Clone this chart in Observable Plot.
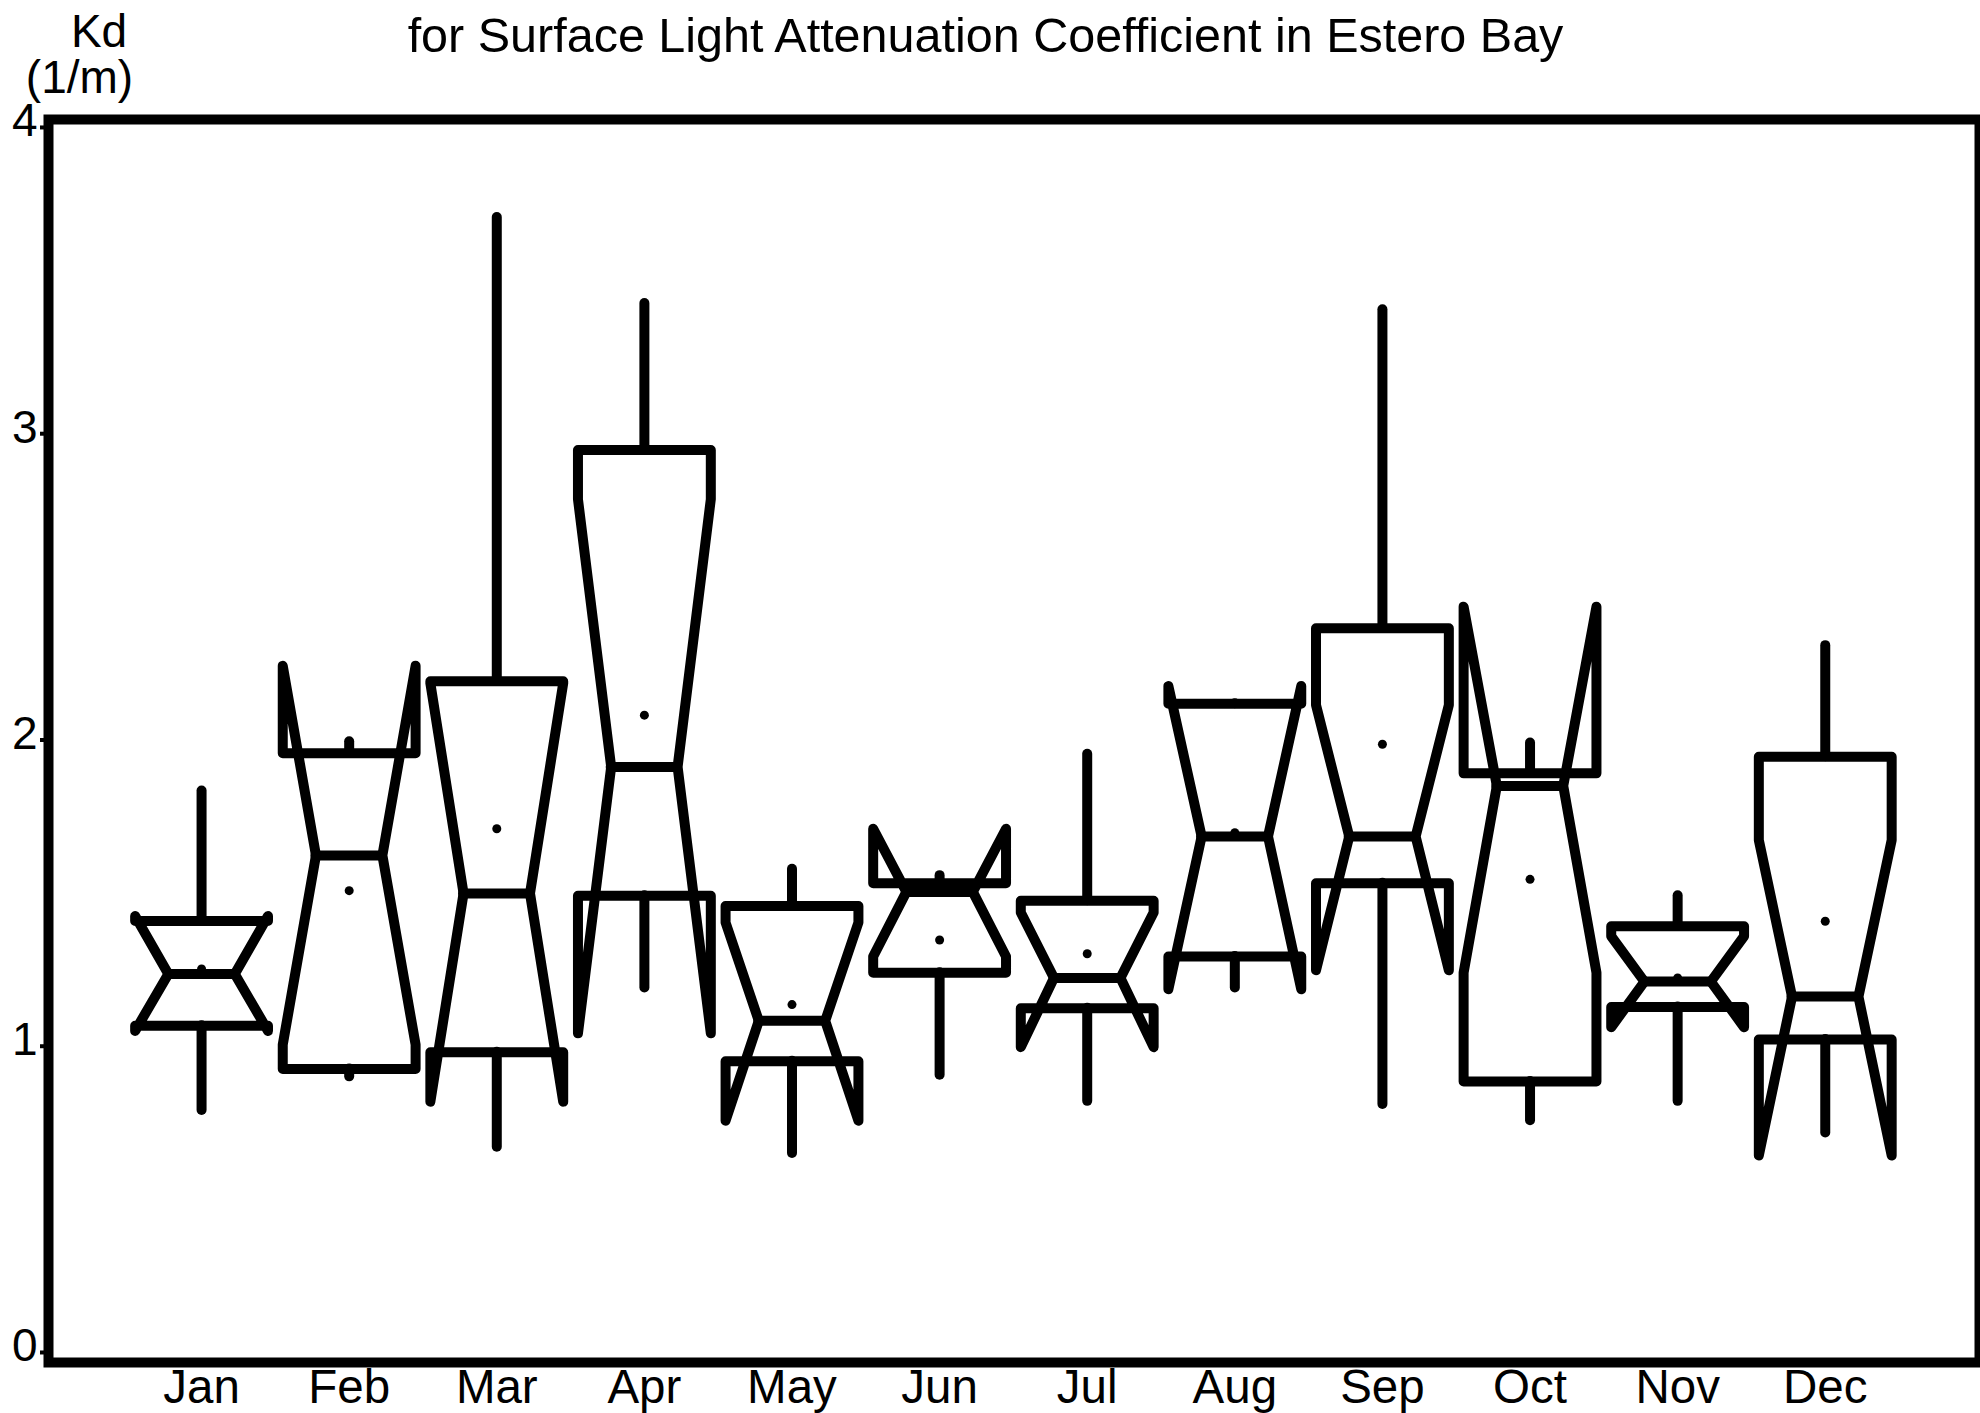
<!DOCTYPE html>
<html>
<head>
<meta charset="utf-8">
<script src="https://cdn.jsdelivr.net/npm/d3@7"></script>
<script src="https://cdn.jsdelivr.net/npm/@observablehq/plot@0.6"></script>
<style>
  html, body { margin: 0; padding: 0; background: #fff; }
</style>
</head>
<body>
<div id="chart"></div>
<script>
// ---- data ----
const months     = ["Jan","Feb","Mar","Apr","May","Jun","Jul","Aug","Sep","Oct","Nov","Dec"];
const whiskerLow = [0.79, 0.90, 0.67, 1.19, 0.65, 0.905, 0.82, 1.19, 0.81, 0.757, 0.82, 0.717];
const q1         = [1.067, 0.926, 0.98, 1.491, 0.951, 1.24, 1.124, 1.293, 1.532, 0.885, 1.128, 1.022];
const medians    = [1.236, 1.623, 1.499, 1.912, 1.083, 1.504, 1.223, 1.685, 1.685, 1.85, 1.211, 1.162];
const q3         = [1.409, 1.957, 2.192, 2.947, 1.458, 1.532, 1.475, 2.118, 2.365, 1.891, 1.392, 1.945];
const whiskerHigh= [1.833, 1.994, 3.706, 3.425, 1.578, 1.557, 1.953, 2.118, 3.405, 1.99, 1.491, 2.308];
const means      = [1.252, 1.508, 1.71, 2.081, 1.136, 1.347, 1.302, 1.697, 1.986, 1.545, 1.223, 1.408];
const notchLow   = [1.05, 1.005, 0.819, 1.042, 0.757, 1.293, 0.997, 1.186, 1.248, 1.24, 1.062, 0.643];
const notchHigh  = [1.425, 2.242, 2.185, 2.786, 1.404, 1.71, 1.437, 2.176, 2.114, 2.435, 1.359, 1.673];
const yTicks     = [0, 1, 2, 3, 4];
const titleText  = "for Surface Light Attenuation Coefficient in Estero Bay";
const yLabel1    = "Kd";
const yLabel2    = "(1/m)";

// ---- derived tables ----
const HALF = 0.45, INNER = 0.225;
const rows = months.map((m, i) => ({
  month: m, pos: i + 1,
  lo: whiskerLow[i], q1: q1[i], med: medians[i], q3: q3[i], hi: whiskerHigh[i],
  mean: means[i], nlo: notchLow[i], nhi: notchHigh[i]
}));
const outline = rows.flatMap(r => [
  [r.pos - HALF, r.q1], [r.pos - HALF, r.nlo], [r.pos - INNER, r.med], [r.pos - HALF, r.nhi],
  [r.pos - HALF, r.q3], [r.pos + HALF, r.q3], [r.pos + HALF, r.nhi], [r.pos + INNER, r.med],
  [r.pos + HALF, r.nlo], [r.pos + HALF, r.q1], [r.pos - HALF, r.q1]
].map(([x, y]) => ({month: r.month, x, y})));

const SW = 10;
const FONT = "'Liberation Sans', Arial, Helvetica, sans-serif";

const chart = Plot.plot({
  width: 1980,
  height: 1413,
  marginLeft: 48,
  marginRight: 1,
  marginTop: 119,
  marginBottom: 51,
  x: {domain: [-0.037, 13.045], axis: null},
  y: {domain: [-0.0327, 4.026]},
  style: {background: "white", color: "black", fontFamily: FONT, fontSize: "46px", overflow: "visible"},
  marks: [
    Plot.axisY(yTicks, {anchor: "left", tickSize: 8, strokeWidth: 4, tickFormat: () => "", label: null}),
    Plot.text(yTicks, {y: d => d, text: d => String(d), frameAnchor: "left", textAnchor: "end",
      lineAnchor: "bottom", dx: -11, dy: 9, fontSize: 46}),
    Plot.text(months, {x: (d, i) => i + 1, text: d => d, frameAnchor: "bottom",
      lineAnchor: "bottom", dy: 40, fontSize: 47.5}),
    Plot.text([titleText], {text: d => d, frameAnchor: "top-left", textAnchor: "middle",
      lineAnchor: "bottom", dx: 937, dy: -68, fontSize: 48.5}),
    Plot.text([yLabel1], {text: d => d, frameAnchor: "top-left", textAnchor: "middle",
      lineAnchor: "bottom", dx: 50.5, dy: -73, fontSize: 46}),
    Plot.text([yLabel2], {text: d => d, frameAnchor: "top-left", textAnchor: "middle",
      lineAnchor: "bottom", dx: 31, dy: -27, fontSize: 46}),
    // whiskers
    Plot.ruleX(rows, {x: "pos", y1: "q3", y2: "hi", stroke: "black", strokeWidth: SW, strokeLinecap: "round"}),
    Plot.ruleX(rows, {x: "pos", y1: "q1", y2: "lo", stroke: "black", strokeWidth: SW, strokeLinecap: "round"}),
    // notched boxes
    Plot.line(outline, {x: "x", y: "y", z: "month", stroke: "black", strokeWidth: SW,
      strokeLinejoin: "round", strokeLinecap: "round"}),
    // medians
    Plot.ruleY(rows, {y: "med", x1: r => r.pos - INNER, x2: r => r.pos + INNER, stroke: "black",
      strokeWidth: SW, strokeLinecap: "round"}),
    // means
    Plot.dot(rows, {x: "pos", y: "mean", r: 4.5, fill: "black", stroke: null}),
    Plot.frame({stroke: "black", strokeWidth: 10})
  ]
});
document.getElementById("chart").appendChild(chart);
</script>
</body>
</html>
